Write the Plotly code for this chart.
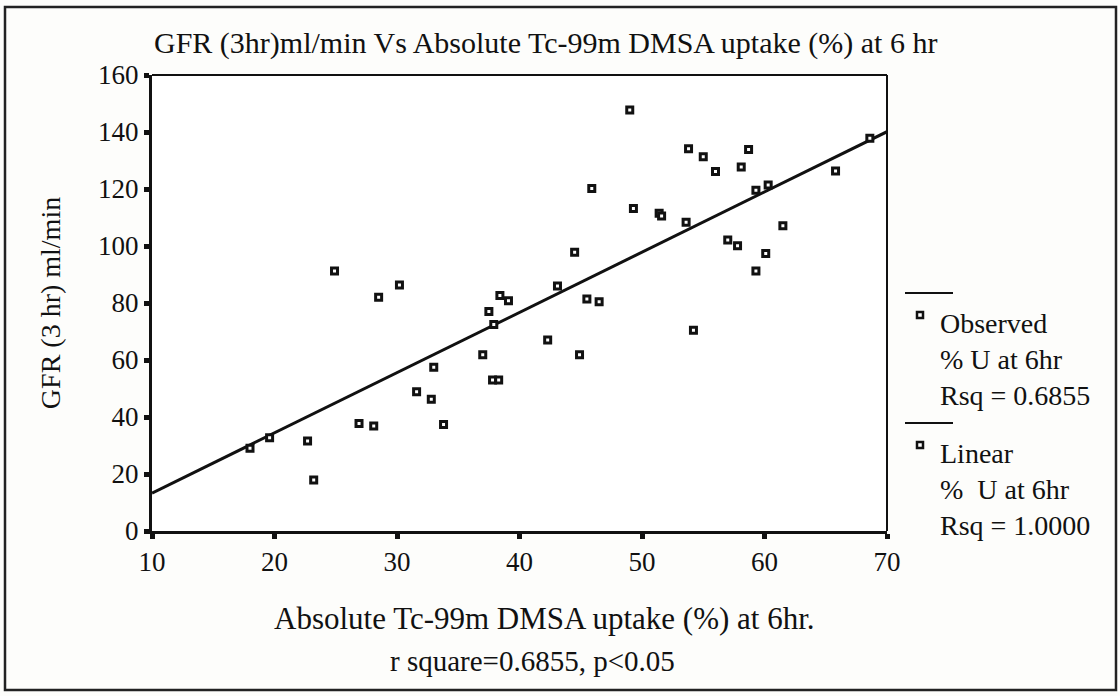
import plotly.graph_objects as go

# Absolute Tc-99m DMSA uptake at 6 hr (%) and GFR at 3 hr (ml/min)
uptake_pct = [18.0, 19.6, 22.7, 23.2, 24.9, 26.9, 28.1, 28.5, 30.2, 31.6,
              32.8, 33.0, 33.8, 37.0, 37.5, 37.9, 37.8, 38.3, 38.4, 39.1,
              42.3, 43.1, 44.5, 44.9, 45.5, 45.9, 46.5, 49.0, 49.3, 51.4,
              51.6, 53.6, 53.8, 54.2, 55.0, 56.0, 57.0, 57.8, 58.1, 58.7,
              59.3, 59.3, 60.1, 60.3, 61.5, 65.8, 68.6]
gfr_ml_min = [29.0, 32.7, 31.6, 17.9, 91.2, 37.7, 36.8, 82.0, 86.3, 48.9,
              46.2, 57.5, 37.4, 61.8, 77.0, 72.5, 53.0, 53.0, 82.6, 80.8,
              67.0, 86.0, 97.8, 61.8, 81.4, 120.2, 80.4, 147.7, 113.2, 111.5,
              110.5, 108.3, 134.1, 70.4, 131.3, 126.1, 102.1, 100.1, 127.7, 133.9,
              119.6, 91.2, 97.4, 121.4, 107.1, 126.3, 137.8]

# Linear fit line, evaluated at the ends of the x range
fit_x = [10, 70]
fit_y = [13.3, 140.1]

x_ticks = [10, 20, 30, 40, 50, 60, 70]
y_ticks = [0, 20, 40, 60, 80, 100, 120, 140, 160]

legend_lines = [["Observed", "% U at 6hr", "Rsq = 0.6855"],
                ["Linear", "%  U at 6hr", "Rsq = 1.0000"]]

W, H = 1120, 696
ML, MR, MT, MB = 152, 233, 75, 165
PW, PH = W - ML - MR, H - MT - MB


def px(x):
    return (x - ML) / PW


def py(y):
    return (H - MB - y) / PH


FONT = "Liberation Serif"
INK = "#111111"

fig = go.Figure()
fig.add_trace(go.Scatter(
    x=fit_x, y=fit_y, mode="lines",
    line=dict(color=INK, width=3), showlegend=False, hoverinfo="skip"))
fig.add_trace(go.Scatter(
    x=uptake_pct, y=gfr_ml_min, mode="markers",
    marker=dict(symbol="square", size=6, color="white",
                line=dict(color=INK, width=3)),
    showlegend=False))

shapes = []
# outer frame around the whole figure
shapes.append(dict(type="rect", xref="paper", yref="paper",
                   x0=px(5), x1=px(1116), y0=py(7), y1=py(690),
                   line=dict(color="#222222", width=2.5), layer="below"))
# thinner top and right edges of the plot box
shapes.append(dict(type="line", xref="paper", yref="paper",
                   x0=0, x1=1, y0=1, y1=1, line=dict(color=INK, width=2)))
shapes.append(dict(type="line", xref="paper", yref="paper",
                   x0=1, x1=1, y0=0, y1=1, line=dict(color=INK, width=2)))

annotations = []
annotations.append(dict(
    text="GFR (3hr)ml/min Vs Absolute Tc-99m DMSA uptake (%) at 6 hr",
    xref="paper", yref="paper", x=px(545), y=py(43), showarrow=False,
    xanchor="center", yanchor="middle", font=dict(family=FONT, size=30, color=INK)))
annotations.append(dict(
    text="Absolute Tc-99m DMSA uptake (%) at 6hr.",
    xref="paper", yref="paper", x=px(544), y=py(618), showarrow=False,
    xanchor="center", yanchor="middle", font=dict(family=FONT, size=31, color=INK)))
annotations.append(dict(
    text="r square=0.6855, p<0.05",
    xref="paper", yref="paper", x=px(532), y=py(661), showarrow=False,
    xanchor="center", yanchor="middle", font=dict(family=FONT, size=29, color=INK)))

# custom legend block on the right
legend_top = [293, 423]
for i, lines in enumerate(legend_lines):
    top = legend_top[i]
    shapes.append(dict(type="line", xref="paper", yref="paper",
                       x0=px(905), x1=px(953), y0=py(top), y1=py(top),
                       line=dict(color=INK, width=2)))
    shapes.append(dict(type="rect", xref="paper", yref="paper",
                       x0=px(917), x1=px(923), y0=py(top + 19), y1=py(top + 25),
                       line=dict(color=INK, width=2.5), fillcolor="white"))
    for j, t in enumerate(lines):
        annotations.append(dict(
            text=t, xref="paper", yref="paper", x=px(938), y=py(top + 30 + 36 * j),
            showarrow=False, xanchor="left", yanchor="middle",
            font=dict(family=FONT, size=28, color=INK)))

fig.update_layout(
    width=W, height=H,
    margin=dict(l=ML, r=MR, t=MT, b=MB),
    paper_bgcolor="#fdfdfb", plot_bgcolor="#ffffff",
    font=dict(family=FONT, size=24, color=INK),
    showlegend=False,
    shapes=shapes, annotations=annotations,
    xaxis=dict(range=[10, 70], tickvals=x_ticks, showgrid=False, zeroline=False,
               showline=True, linecolor=INK, linewidth=3,
               ticks="outside", ticklen=5, tickwidth=5, tickcolor=INK,
               tickfont=dict(family=FONT, size=27, color=INK)),
    yaxis=dict(range=[0, 160], tickvals=y_ticks, showgrid=False, zeroline=False,
               showline=True, linecolor=INK, linewidth=3,
               ticks="outside", ticklen=5, tickwidth=5, tickcolor=INK,
               tickfont=dict(family=FONT, size=27, color=INK),
               title=dict(text="GFR (3 hr) ml/min",
                          font=dict(family=FONT, size=28, color=INK), standoff=30)),
)

fig.write_html("out.html")
